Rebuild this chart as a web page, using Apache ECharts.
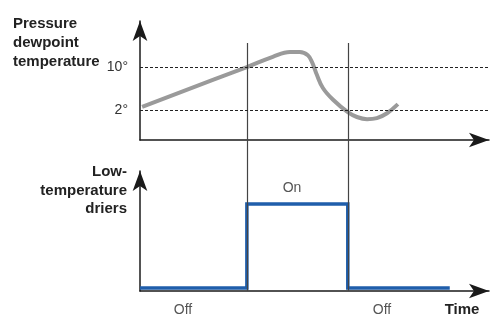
<!DOCTYPE html>
<html>
<head>
<meta charset="utf-8">
<script src="https://cdn.jsdelivr.net/npm/echarts@6/dist/echarts.min.js"></script>
<style>
  html, body { margin: 0; padding: 0; background: #fff; }
  #chart { width: 499px; height: 316px; }
</style>
</head>
<body>
<div id="chart"></div>
<script>
// time axis in arbitrary units (0 .. ~100)
const curveTime = [0.6, 30.5, 37.9, 42.8, 45.6, 47.9, 49.1, 50.5, 52.2, 55.1, 59.3, 61.9, 64.8, 67.6, 70.5, 73.6];
// pressure dewpoint (deg)
const curveTemp = [2.6, 10.0, 11.9, 12.8, 12.8, 12.2, 10.9, 8.5, 6.1, 3.9, 1.6, 0.7, 0.3, 0.5, 1.4, 3.1];
const thresholds = [10, 2];
const thresholdLabels = ['10°', '2°'];

// driers on / off
const switchTimes = [30.5, 59.3];
const dryerTime = [0, 30.5, 30.5, 59.3, 59.3, 88.4];
const dryerState = [0, 0, 1, 1, 0, 0];

const stateLabels = ['Off', 'On', 'Off'];

const FONT = '"Liberation Sans", Arial, sans-serif';
const AXIS = '#1a1a1a';
const T_MAX = 99.6;

const chart = echarts.init(document.getElementById('chart'));

const arrowLine = {
  show: true,
  onZero: false,
  symbol: ['none', 'arrow'],
  symbolSize: [11, 20],
  lineStyle: {color: AXIS, width: 1.5}
};
const hidden = {
  axisTick: {show: false},
  axisLabel: {show: false},
  splitLine: {show: false}
};

chart.setOption({
  animation: false,
  grid: [
    {left: 140, right: 10, top: 21, height: 119},
    {left: 140, right: 10, top: 171, height: 120},
    {left: 140, right: 10, top: 43, height: 248}
  ],
  xAxis: [
    {type: 'value', gridIndex: 0, min: 0, max: T_MAX, axisLine: arrowLine, ...hidden},
    {type: 'value', gridIndex: 1, min: 0, max: T_MAX, axisLine: arrowLine, ...hidden},
    {type: 'value', gridIndex: 2, min: 0, max: T_MAX, show: false}
  ],
  yAxis: [
    {
      type: 'value', gridIndex: 0, min: -3.58, max: 18.56,
      axisLine: arrowLine,
      axisTick: {show: false},
      splitLine: {show: false},
      axisLabel: {
        show: true,
        customValues: thresholds,
        formatter: v => thresholdLabels[thresholds.indexOf(v)],
        margin: 12,
        padding: [9, 0, 0, 0],
        color: '#333',
        fontFamily: FONT,
        fontSize: 14
      }
    },
    {type: 'value', gridIndex: 1, min: -0.036, max: 1.393, axisLine: arrowLine, ...hidden},
    {type: 'value', gridIndex: 2, min: 0, max: 1, show: false}
  ],
  series: [
    {
      // vertical switch lines spanning both panels
      type: 'line',
      xAxisIndex: 2,
      yAxisIndex: 2,
      data: [],
      z: 1,
      markLine: {
        silent: true,
        symbol: 'none',
        label: {show: false},
        lineStyle: {color: '#444', width: 1.2, type: 'solid'},
        data: switchTimes.map(t => ({xAxis: t}))
      }
    },
    {
      type: 'line',
      xAxisIndex: 0,
      yAxisIndex: 0,
      data: curveTime.map((t, i) => [t, curveTemp[i]]),
      smooth: 0.4,
      showSymbol: false,
      lineStyle: {color: '#9a9a9a', width: 4},
      z: 3,
      markLine: {
        silent: true,
        symbol: 'none',
        label: {show: false},
        lineStyle: {color: '#222', width: 1, type: [3, 2]},
        data: thresholds.map(v => ({yAxis: v}))
      }
    },
    {
      type: 'line',
      xAxisIndex: 1,
      yAxisIndex: 1,
      data: dryerTime.map((t, i) => [t, dryerState[i]]),
      showSymbol: false,
      lineStyle: {color: '#1f5eab', width: 3.5, join: 'miter'},
      z: 3
    }
  ],
  graphic: [
    {type: 'text', x: 13, y: 14, style: {text: 'Pressure\ndewpoint\ntemperature', font: 'bold 15px ' + FONT, fill: '#222', lineHeight: 19}},
    {type: 'text', x: 127, y: 163, style: {text: 'Low-\ntemperature\ndriers', font: 'bold 15px ' + FONT, fill: '#222', lineHeight: 18.5, align: 'right'}},
    {type: 'text', x: 292, y: 188, style: {text: stateLabels[1], font: '14px ' + FONT, fill: '#555', align: 'center', verticalAlign: 'middle'}},
    {type: 'text', x: 183, y: 310, style: {text: stateLabels[0], font: '14px ' + FONT, fill: '#555', align: 'center', verticalAlign: 'middle'}},
    {type: 'text', x: 382, y: 310, style: {text: stateLabels[2], font: '14px ' + FONT, fill: '#555', align: 'center', verticalAlign: 'middle'}},
    {type: 'text', x: 462, y: 310, style: {text: 'Time', font: 'bold 15px ' + FONT, fill: '#222', align: 'center', verticalAlign: 'middle'}}
  ]
});
</script>
</body>
</html>
